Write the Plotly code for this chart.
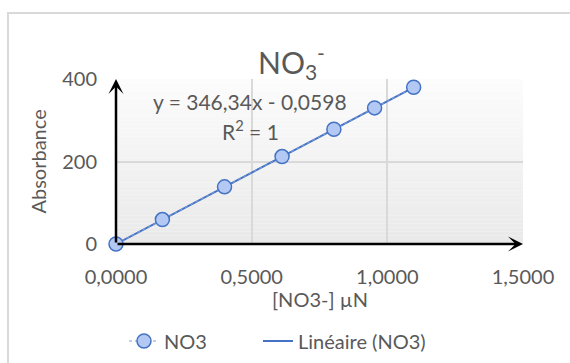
import numpy as np
import plotly.graph_objects as go

# Calibration data: nitrate concentration vs absorbance
conc_uN = [0.0, 0.171, 0.400, 0.612, 0.803, 0.953, 1.097]
absorbance = [0.0, 59.2, 138.5, 211.9, 278.1, 330.0, 379.9]

x_ticks = [0.0, 0.5, 1.0, 1.5]
y_ticks = [0, 200, 400]

equation_text = "y = 346,34x - 0,0598"
r2_text = "R<sup>2</sup> = 1"

# Linear trendline fitted on the calibration points
slope, intercept = np.polyfit(conc_uN, absorbance, 1)
trend_x = [0.0, max(conc_uN)]
trend_y = [slope * v + intercept for v in trend_x]

FONT = "Lato"
GREY = "#595959"
BLUE = "#4472c4"

# Plot-area geometry in pixels
W, H = 570, 363
L, R, T, B = 116, 47, 79, 119
PW, PH = W - L - R, H - T - B


def px(xp):
    return (xp - L) / PW


def py(yp):
    return (H - B - yp) / PH


fig = go.Figure()

fig.add_trace(go.Scatter(
    x=trend_x, y=trend_y, mode="lines", name="Linéaire (NO3)",
    line=dict(color=BLUE, width=2), legend="legend2", cliponaxis=False,
))
fig.add_trace(go.Scatter(
    x=conc_uN, y=absorbance, mode="lines+markers", name="NO3",
    line=dict(color="#7fa0dc", width=1, dash="dot"),
    marker=dict(size=14, color="#b3c8f2", line=dict(color=BLUE, width=1.5)),
    legend="legend", cliponaxis=False,
))

# Vertical gradient behind the plot area
shapes = []
n_bands = 40
top_c, bot_c = np.array([252, 252, 252]), np.array([233, 233, 233])
for i in range(n_bands):
    f = (i + 0.5) / n_bands
    c = top_c + (bot_c - top_c) * f
    shapes.append(dict(
        type="rect", xref="x domain", yref="y domain", layer="below",
        x0=0, x1=1, y0=1 - (i + 1) / n_bands, y1=1 - i / n_bands,
        line=dict(width=0), fillcolor="rgb(%d,%d,%d)" % tuple(c.round()),
    ))

# Chart-area border
shapes.append(dict(
    type="rect", xref="paper", yref="paper", layer="below",
    x0=px(8), x1=px(620), y0=py(420), y1=py(13),
    line=dict(color="#d9d9d9", width=2), fillcolor="rgba(0,0,0,0)",
))


def label(xp, yp, text, size=20, angle=0):
    return dict(x=px(xp), y=py(yp), xref="paper", yref="paper", text=text,
                xanchor="center", yanchor="middle", textangle=angle,
                showarrow=False, font=dict(family=FONT, size=size, color=GREY))


annotations = [
    # axis arrows
    dict(x=1.5, y=0, ax=0, ay=0, xref="x", yref="y", axref="x", ayref="y",
         text="", showarrow=True, arrowhead=3, arrowsize=1, arrowwidth=2.5,
         arrowcolor="black"),
    dict(x=0, y=400, ax=0, ay=0, xref="x", yref="y", axref="x", ayref="y",
         text="", showarrow=True, arrowhead=3, arrowsize=1, arrowwidth=2.5,
         arrowcolor="black"),
    # title
    label(291, 62, "NO<sub>3</sub><sup>-</sup>", size=30),
    # trendline equation
    label(250, 101, equation_text, size=21),
    label(250, 130, r2_text, size=21),
    # axis titles
    label(37, 161.5, "Absorbance", angle=-90),
    label(320, 299, "[NO3-] µN"),
]

legend_common = dict(
    orientation="h", yanchor="middle", xanchor="left",
    font=dict(family=FONT, size=20, color=GREY),
    bgcolor="rgba(0,0,0,0)",
)

fig.update_layout(
    width=W, height=H,
    margin=dict(l=L, r=R, t=T, b=B, autoexpand=False),
    paper_bgcolor="white", plot_bgcolor="rgba(0,0,0,0)",
    separators=", ",
    font=dict(family=FONT, size=20, color=GREY),
    shapes=shapes, annotations=annotations,
    showlegend=True,
    legend=dict(x=px(124), y=py(341), **legend_common),
    legend2=dict(x=px(258), y=py(341), **legend_common),
)

fig.update_xaxes(
    range=[0, 1.5], tickvals=x_ticks, tickformat=".4f",
    showgrid=True, gridcolor="#d9d9d9", gridwidth=1.5,
    zeroline=False, showline=False, ticks="", ticklabelstandoff=19,
    tickfont=dict(family=FONT, size=20, color=GREY),
)
fig.update_yaxes(
    range=[0, 400], tickvals=y_ticks,
    showgrid=True, gridcolor="#d9d9d9", gridwidth=1.5,
    zeroline=False, showline=False, ticks="", ticklabelstandoff=18,
    tickfont=dict(family=FONT, size=20, color=GREY),
)

fig.write_html("out.html")
